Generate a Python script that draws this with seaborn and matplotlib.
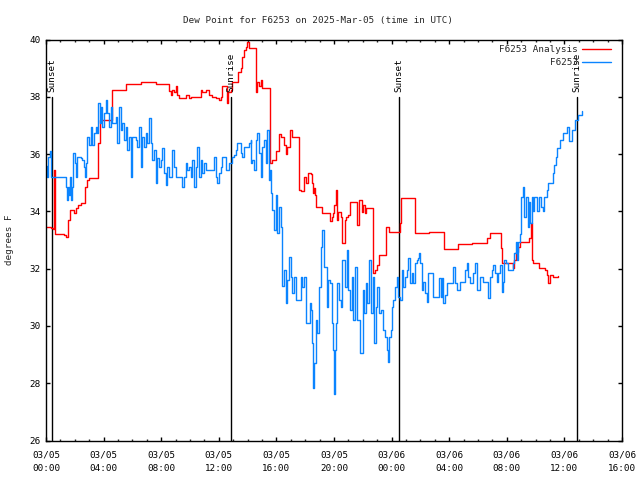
import matplotlib
matplotlib.use("Agg")
import matplotlib.pyplot as plt
import seaborn as sns
import pandas as pd

# ---- data (hours since 03/05 00:00 UTC, degrees F) ----
red_t = [0.00, 0.35, 0.49, 0.56, 0.63, 1.25, 1.39, 1.53, 1.67, 1.81, 1.95, 2.09, 2.23, 2.43, 2.71, 2.85,
         2.99, 3.62, 3.76, 4.59, 5.57, 6.61, 7.65, 8.56, 8.70, 8.77, 8.90, 9.04, 9.11, 9.25, 9.74, 9.95,
         10.09, 10.78, 10.85, 11.13, 11.34, 11.55, 11.83, 12.03, 12.17, 12.24, 12.59, 12.66, 12.87, 12.94,
         13.36, 13.57, 13.63, 13.77, 13.91, 13.98, 14.12, 14.61, 14.68, 14.82, 14.96, 15.03, 15.58, 15.72,
         16.00, 16.21, 16.35, 16.56, 16.70, 16.77, 16.97, 17.11, 17.60, 17.74, 17.95, 18.09, 18.16, 18.43,
         18.50, 18.57, 18.64, 18.71, 18.78, 19.13, 19.20, 19.55, 19.69, 19.83, 19.90, 20.03, 20.17, 20.24,
         20.31, 20.45, 20.52, 20.59, 20.73, 20.80, 20.94, 21.08, 21.43, 21.57, 21.77, 21.91, 21.98, 22.12,
         22.19, 22.61, 22.68, 22.69, 22.82, 22.96, 23.10, 23.58, 23.65, 23.79, 24.49, 24.56, 24.63, 25.60,
         26.57, 27.62, 28.59, 29.57, 30.61, 30.82, 31.58, 31.65, 32.42, 32.49, 32.63, 32.77, 32.90, 33.53,
         33.67, 33.74, 33.81, 34.23, 34.64, 34.78, 34.85, 34.99, 35.20, 35.55]
red_v = [33.45, 33.42, 33.40, 35.45, 33.20, 33.17, 33.10, 33.70, 34.05, 34.05, 33.95, 34.12, 34.22, 34.30,
         34.85, 35.10, 35.15, 36.40, 37.20, 38.25, 38.43, 38.53, 38.46, 38.20, 38.07, 38.25, 38.18, 38.36,
         38.07, 37.97, 38.07, 37.97, 38.00, 38.25, 38.18, 38.25, 38.07, 38.00, 37.97, 37.90, 38.00, 38.36,
         37.80, 38.18, 38.25, 38.50, 38.85, 39.02, 39.40, 39.65, 39.75, 39.90, 39.72, 38.15, 38.50, 38.36,
         38.60, 38.29, 35.70, 35.80, 36.10, 36.70, 36.60, 36.30, 36.00, 36.26, 36.85, 36.60, 34.75, 34.70,
         35.20, 35.00, 35.34, 35.30, 35.00, 34.64, 34.82, 34.57, 34.15, 34.15, 33.95, 33.95, 33.65, 33.80,
         33.95, 34.22, 34.75, 33.70, 33.98, 33.98, 33.80, 32.90, 33.70, 33.80, 33.88, 34.33, 34.33, 33.52,
         34.40, 33.98, 34.22, 33.95, 34.12, 34.12, 32.30, 31.84, 31.95, 32.12, 32.48, 33.45, 33.45, 33.28,
         33.28, 33.60, 34.47, 33.25, 33.28, 32.69, 32.86, 32.90, 33.07, 33.25, 32.72, 32.20, 32.02, 32.30,
         32.58, 32.76, 32.93, 33.07, 33.60, 32.30, 32.20, 32.02, 31.95, 31.77, 31.49, 31.77, 31.70, 31.74]

blue_t = [0.00, 0.07, 0.14, 0.28, 0.35, 1.32, 1.39, 1.46, 1.53, 1.60, 1.67, 1.74, 1.81, 1.88, 2.02, 2.09,
          2.16, 2.43, 2.50, 2.64, 2.71, 2.78, 2.85, 2.99, 3.13, 3.20, 3.34, 3.48, 3.55, 3.62, 3.76, 3.83,
          3.90, 4.03, 4.17, 4.24, 4.38, 4.52, 4.59, 4.87, 4.94, 5.08, 5.22, 5.29, 5.43, 5.57, 5.63, 5.77,
          5.91, 5.98, 6.26, 6.33, 6.47, 6.61, 6.68, 6.82, 6.96, 7.03, 7.17, 7.30, 7.37, 7.51, 7.65, 7.72,
          7.86, 8.00, 8.07, 8.21, 8.35, 8.42, 8.56, 8.77, 8.90, 9.04, 9.25, 9.46, 9.60, 9.74, 9.81, 9.95,
          10.09, 10.16, 10.30, 10.43, 10.50, 10.64, 10.78, 10.85, 10.99, 11.13, 11.55, 11.69, 11.83, 11.90,
          12.03, 12.17, 12.24, 12.52, 12.73, 12.94, 13.08, 13.22, 13.29, 13.50, 13.57, 13.63, 13.77, 13.98,
          14.12, 14.26, 14.27, 14.33, 14.47, 14.61, 14.68, 14.82, 14.96, 15.03, 15.17, 15.30, 15.37, 15.51,
          15.58, 15.65, 15.72, 15.86, 16.00, 16.07, 16.21, 16.35, 16.42, 16.56, 16.70, 16.77, 16.90, 17.04,
          17.11, 17.25, 17.39, 17.74, 17.81, 17.95, 18.09, 18.30, 18.43, 18.50, 18.57, 18.64, 18.78, 18.85,
          18.99, 19.13, 19.20, 19.34, 19.48, 19.55, 19.69, 19.83, 19.90, 19.97, 20.10, 20.17, 20.24, 20.38,
          20.52, 20.59, 20.73, 20.87, 20.94, 21.08, 21.22, 21.29, 21.43, 21.57, 21.77, 21.84, 21.98, 22.05,
          22.19, 22.26, 22.40, 22.54, 22.68, 22.75, 22.89, 22.96, 23.10, 23.23, 23.37, 23.51, 23.65, 23.72,
          23.79, 23.93, 24.00, 24.07, 24.21, 24.35, 24.42, 24.56, 24.70, 24.77, 24.90, 25.04, 25.11, 25.25,
          25.39, 25.46, 25.60, 25.74, 25.81, 25.88, 25.95, 26.09, 26.16, 26.30, 26.43, 26.50, 26.78, 26.85,
          27.20, 27.27, 27.41, 27.48, 27.55, 27.69, 27.83, 28.17, 28.24, 28.38, 28.52, 28.73, 28.94, 29.08,
          29.22, 29.29, 29.43, 29.63, 29.77, 29.91, 30.12, 30.33, 30.61, 30.68, 30.82, 30.96, 31.03, 31.17,
          31.30, 31.37, 31.51, 31.65, 31.72, 31.79, 31.93, 32.07, 32.42, 32.49, 32.63, 32.70, 32.77, 32.90,
          32.97, 33.11, 33.18, 33.32, 33.46, 33.53, 33.60, 33.74, 33.81, 33.88, 34.09, 34.23, 34.37, 34.50,
          34.57, 34.78, 34.85, 35.20, 35.27, 35.41, 35.48, 35.69, 35.90, 36.17, 36.31, 36.52, 36.73, 36.94,
          37.22]
blue_v = [35.60, 35.20, 35.90, 36.10, 35.20, 35.20, 34.85, 34.40, 34.85, 34.57, 35.20, 34.40, 34.85, 36.05,
          35.70, 35.20, 35.90, 35.87, 35.80, 35.55, 35.20, 35.70, 36.60, 36.33, 36.96, 36.33, 36.75, 36.96,
          36.75, 37.80, 37.10, 37.66, 36.96, 37.45, 37.90, 37.45, 36.96, 37.66, 37.10, 37.30, 36.40, 37.66,
          36.85, 37.10, 36.50, 36.96, 36.15, 36.60, 35.20, 36.60, 36.50, 36.26, 36.96, 35.55, 36.60, 36.26,
          36.75, 36.40, 37.27, 36.40, 35.80, 36.15, 35.00, 35.87, 35.55, 35.80, 36.22, 35.34, 34.92, 35.55,
          35.20, 36.15, 35.55, 35.20, 35.20, 34.85, 35.20, 35.70, 35.45, 35.55, 35.20, 35.80, 34.85, 35.55,
          36.26, 35.20, 35.80, 35.34, 35.70, 35.45, 35.45, 35.90, 35.20, 35.00, 35.34, 35.55, 35.90, 35.45,
          35.70, 35.90, 35.98, 36.15, 36.40, 36.40, 36.05, 35.90, 36.26, 36.26, 36.40, 36.50, 35.70, 35.80,
          35.45, 36.50, 36.75, 36.05, 35.20, 36.26, 36.50, 35.70, 36.85, 35.10, 35.45, 34.64, 34.05, 33.35,
          34.57, 33.25, 34.15, 33.45, 31.40, 31.95, 30.80, 31.60, 32.40, 31.70, 31.14, 31.70, 30.90, 31.70,
          31.35, 31.70, 30.10, 30.80, 30.55, 29.40, 27.85, 28.70, 30.20, 29.75, 31.35, 32.75, 33.35, 32.05,
          30.65, 31.60, 31.49, 30.10, 29.15, 27.64, 29.15, 30.10, 31.49, 30.90, 30.65, 32.30, 31.35, 32.65,
          31.25, 30.55, 31.70, 30.20, 32.05, 30.20, 30.20, 29.05, 31.25, 30.45, 31.49, 30.79, 32.30, 30.45,
          31.70, 29.40, 30.65, 31.35, 30.45, 30.55, 29.85, 29.60, 29.15, 28.73, 29.60, 29.85, 30.65, 30.90,
          31.35, 31.70, 31.00, 30.90, 31.95, 31.35, 31.70, 31.95, 32.37, 31.49, 31.84, 31.49, 32.20, 32.30,
          32.37, 32.55, 32.20, 31.25, 31.53, 31.14, 30.83, 31.84, 31.84, 31.00, 31.00, 31.67, 31.00, 31.67,
          30.79, 31.07, 31.49, 31.49, 32.05, 31.49, 31.25, 31.53, 31.53, 31.95, 32.20, 31.70, 31.49, 31.84,
          32.20, 31.25, 31.70, 31.53, 31.53, 30.97, 31.70, 31.95, 32.12, 31.84, 31.53, 31.84, 32.12, 31.18,
          31.53, 32.30, 32.20, 31.95, 32.20, 32.55, 32.93, 32.30, 32.93, 33.20, 34.50, 34.85, 33.80, 34.50,
          33.45, 34.33, 33.60, 34.50, 34.00, 34.50, 34.00, 34.50, 34.15, 34.00, 34.50, 34.75, 35.00, 35.35,
          35.62, 35.90, 36.20, 36.50, 36.75, 36.95, 36.45, 36.85, 37.20, 37.38, 37.50]

series_names = ["F6253 Analysis", "F6253"]
series_colors = ["#ff0000", "#0a84ff"]

event_times = [0.42, 12.87, 24.49, 36.87]
event_labels = ["Sunset", "Sunrise", "Sunset", "Sunrise"]

xtick_pos = [0, 4, 8, 12, 16, 20, 24, 28, 32, 36, 40]
xtick_labels = ["03/05\n00:00", "03/05\n04:00", "03/05\n08:00", "03/05\n12:00", "03/05\n16:00",
                "03/05\n20:00", "03/06\n00:00", "03/06\n04:00", "03/06\n08:00", "03/06\n12:00",
                "03/06\n16:00"]
ytick_pos = [26, 28, 30, 32, 34, 36, 38, 40]

title = "Dew Point for F6253 on 2025-Mar-05 (time in UTC)"
ylabel = "degrees F"

# ---- plot ----
sns.set_style("white")
plt.rcParams["font.family"] = ["DejaVu Sans Mono"]
FS = 6.7

df = pd.concat([
    pd.DataFrame({"t": red_t, "v": red_v, "series": series_names[0]}),
    pd.DataFrame({"t": blue_t, "v": blue_v, "series": series_names[1]}),
], ignore_index=True)

fig = plt.figure(figsize=(6.4, 4.8), dpi=100)
ax = fig.add_axes([46 / 640, 1 - 440.5 / 480, 576 / 640, 401 / 480])

sns.lineplot(data=df, x="t", y="v", hue="series", hue_order=series_names,
             palette=dict(zip(series_names, series_colors)), estimator=None, sort=False,
             drawstyle="steps-post", linewidth=1.0, ax=ax, legend=True)

for t, lab in zip(event_times, event_labels):
    ax.plot([t, t], [26, 38], color="black", linewidth=1.0, zorder=1)
    ax.text(t, 38.15, lab, rotation=90, ha="center", va="bottom", fontsize=FS, color="black")

ax.set_xlim(0, 40)
ax.set_ylim(26, 40)
ax.set_xticks(xtick_pos)
ax.set_xticklabels(xtick_labels, fontsize=FS, linespacing=1.75)
ax.set_xticks(range(0, 41), minor=True)
ax.set_yticks(ytick_pos)
ax.set_yticklabels([str(v) for v in ytick_pos], fontsize=FS)
ax.tick_params(which="major", direction="in", length=3, width=1, top=True, right=True,
               bottom=True, left=True, colors="black", pad=4)
ax.tick_params(which="minor", direction="in", length=1.5, width=1, top=True, bottom=True)
ax.tick_params(axis="x", which="major", pad=7)
for s in ax.spines.values():
    s.set_color("black")
    s.set_linewidth(1.0)
ax.set_xlabel("")
ax.set_ylabel(ylabel, fontsize=FS, labelpad=11)
fig.text(318 / 640, 1 - 20 / 480, title, ha="center", va="center", fontsize=FS)

ax.legend(loc="upper right", frameon=False, markerfirst=False, fontsize=FS,
          handlelength=3.1, handletextpad=0.4, labelspacing=0.45,
          bbox_to_anchor=(0.99, 1.0), borderaxespad=0.2, borderpad=0.4)

fig.savefig("out.png", dpi=100)
